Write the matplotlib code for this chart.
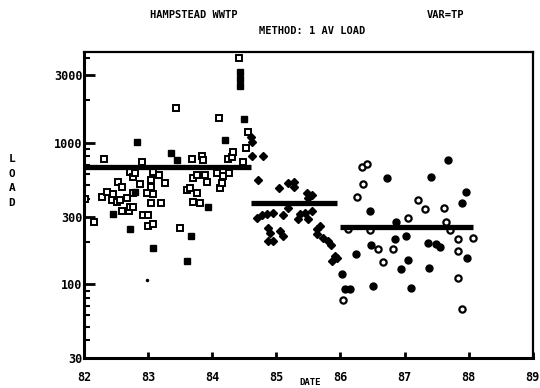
import numpy as np
from matplotlib import pyplot as plt
from matplotlib.ticker import LogLocator, FixedLocator, NullFormatter

# period 1 (82 - mid 84): open and filled squares
p1_open_x = [82.02, 82.16, 82.28, 82.31, 82.36, 82.44, 82.45, 82.51, 82.53, 82.56,
             82.59, 82.59, 82.67, 82.70, 82.72, 82.72, 82.76, 82.76, 82.76, 82.80,
             82.87, 82.90, 82.92, 82.98, 83.00, 83.00, 83.05, 83.05, 83.05, 83.08,
             83.08, 83.08, 83.17, 83.20, 83.26, 83.44, 83.50, 83.61, 83.65, 83.68,
             83.70, 83.70, 83.76, 83.76, 83.81, 83.84, 83.86, 83.89, 83.92, 84.07,
             84.11, 84.12, 84.15, 84.17, 84.25, 84.26, 84.31, 84.32, 84.42, 84.48,
             84.53, 84.56]
p1_open_y = [398, 277, 411, 769, 447, 392, 432, 379, 526, 392,
             485, 327, 405, 327, 621, 349, 572, 440, 349, 611,
             509, 731, 306, 440, 306, 259, 544, 485, 373, 621,
             432, 268, 591, 373, 518, 1749, 251, 461, 477, 769,
             562, 379, 591, 440, 373, 807, 756, 591, 526, 611,
             1509, 477, 518, 582, 769, 611, 794, 862, 3981, 731,
             921, 1200]
p1_fill_x = [82.45, 82.72, 82.80, 82.83, 83.08, 83.36, 83.45, 83.61, 83.67, 83.93,
             84.20, 84.43, 84.43, 84.43, 84.50]
p1_fill_y = [311, 247, 447, 1017, 181, 848, 756, 146, 220, 349,
             1050, 3162, 2818, 2512, 1483]
p1_dot_x = [82.98]
p1_dot_y = [107]

# period 2 (mid 84 - 86): diamonds
p2_x = [84.61, 84.62, 84.62, 84.79, 84.71, 85.04, 85.18, 85.28, 85.28, 85.48,
        85.56, 85.49, 84.70, 84.78, 84.85, 84.95, 85.10, 85.18, 85.37, 85.45,
        85.49, 85.56, 85.34, 84.87, 84.90, 85.06, 85.10, 84.87, 84.95, 85.63,
        85.68, 85.63, 85.73, 85.81, 85.85, 85.92, 85.87, 85.95]
p2_y = [1103, 1017, 807, 807, 544, 477, 518, 526, 485, 440,
        425, 405, 296, 306, 311, 321, 306, 344, 316, 321,
        291, 327, 287, 251, 231, 239, 220, 203, 203, 247,
        259, 228, 213, 203, 190, 158, 146, 153]

# period 3 (86 - 88): open and filled circles
p3_open_x = [86.34, 86.41, 86.35, 86.26, 87.21, 87.32, 87.62, 87.05, 87.65, 86.12,
             86.46, 87.71, 88.07, 87.83, 86.59, 86.82, 87.83, 86.66, 87.83, 86.04,
             87.90]
p3_open_y = [674, 708, 509, 411, 392, 338, 344, 296, 277, 247,
             243, 243, 213, 210, 178, 178, 172, 144, 110, 77,
             67]
p3_fill_x = [87.68, 86.73, 87.41, 87.96, 87.90, 86.46, 86.87, 86.85, 87.02, 86.48,
             87.37, 87.49, 87.55, 86.24, 87.98, 87.05, 86.95, 87.38, 86.02, 86.07,
             86.15, 86.51, 87.10]
p3_fill_y = [756, 562, 572, 447, 373, 327, 273, 210, 220, 190,
             196, 193, 184, 164, 153, 148, 128, 130, 118, 92,
             92, 97, 94]

# average load per period
mean_start = [82.0, 84.6, 86.0]
mean_end = [84.6, 85.95, 88.07]
mean_load = [674, 373, 255]

xticks = [82, 83, 84, 85, 86, 87, 88, 89]
yticks = [30, 100, 300, 1000, 3000]

font = {'family': 'DejaVu Sans Mono', 'weight': 'bold'}

fig = plt.figure(figsize=(5.4, 3.88), dpi=100)
ax = fig.add_axes([0.1556, 0.0773, 0.831, 0.789])

ax.plot(p1_open_x, p1_open_y, 's', ms=4, mfc='white', mec='black', mew=1.4)
ax.plot(p1_fill_x, p1_fill_y, 's', ms=4.5, color='black')
ax.plot(p1_dot_x, p1_dot_y, '.', ms=3, color='black')
ax.plot(p2_x, p2_y, 'D', ms=3.8, color='black')
ax.plot(p3_open_x, p3_open_y, 'o', ms=4.5, mfc='white', mec='black', mew=1.6)
ax.plot(p3_fill_x, p3_fill_y, 'o', ms=5, color='black')
ax.hlines(mean_load, mean_start, mean_end, colors='black', lw=3.8)

ax.set_yscale('log')
ax.set_xlim(82, 89)
ax.set_ylim(30, 4400)
ax.yaxis.set_major_locator(FixedLocator(yticks))
ax.set_yticklabels([str(v) for v in yticks], fontsize=8.5, **font)
ax.yaxis.set_minor_locator(LogLocator(subs=np.arange(2, 10)))
ax.yaxis.set_minor_formatter(NullFormatter())
ax.set_xticks(xticks)
ax.set_xticklabels([str(v) for v in xticks], fontsize=8.5, **font)

ax.tick_params(axis='y', which='major', direction='in', length=8, width=2, pad=1)
ax.tick_params(axis='y', which='minor', direction='in', length=4, width=1.5)
ax.tick_params(axis='x', direction='in', length=4, width=2, pad=9)
for side in ['left', 'bottom']:
    ax.spines[side].set_linewidth(2.2)
for side in ['top', 'right']:
    ax.spines[side].set_linewidth(1.6)

fig.text(194 / 540, 1 - 15 / 388, 'HAMPSTEAD WWTP', ha='center', va='center', fontsize=7.5, **font)
fig.text(445 / 540, 1 - 15 / 388, 'VAR=TP', ha='center', va='center', fontsize=7.5, **font)
fig.text(312 / 540, 1 - 31 / 388, 'METHOD: 1 AV LOAD', ha='center', va='center', fontsize=7.5, **font)
fig.text(12 / 540, 1 - 181 / 388, 'L\nO\nA\nD', ha='center', va='center', fontsize=8,
         linespacing=1.6, **font)
fig.text(310 / 540, 1 - 387 / 388, 'DATE', ha='center', va='bottom', fontsize=6.5, **font)

fig.savefig('out.png', dpi=100)
